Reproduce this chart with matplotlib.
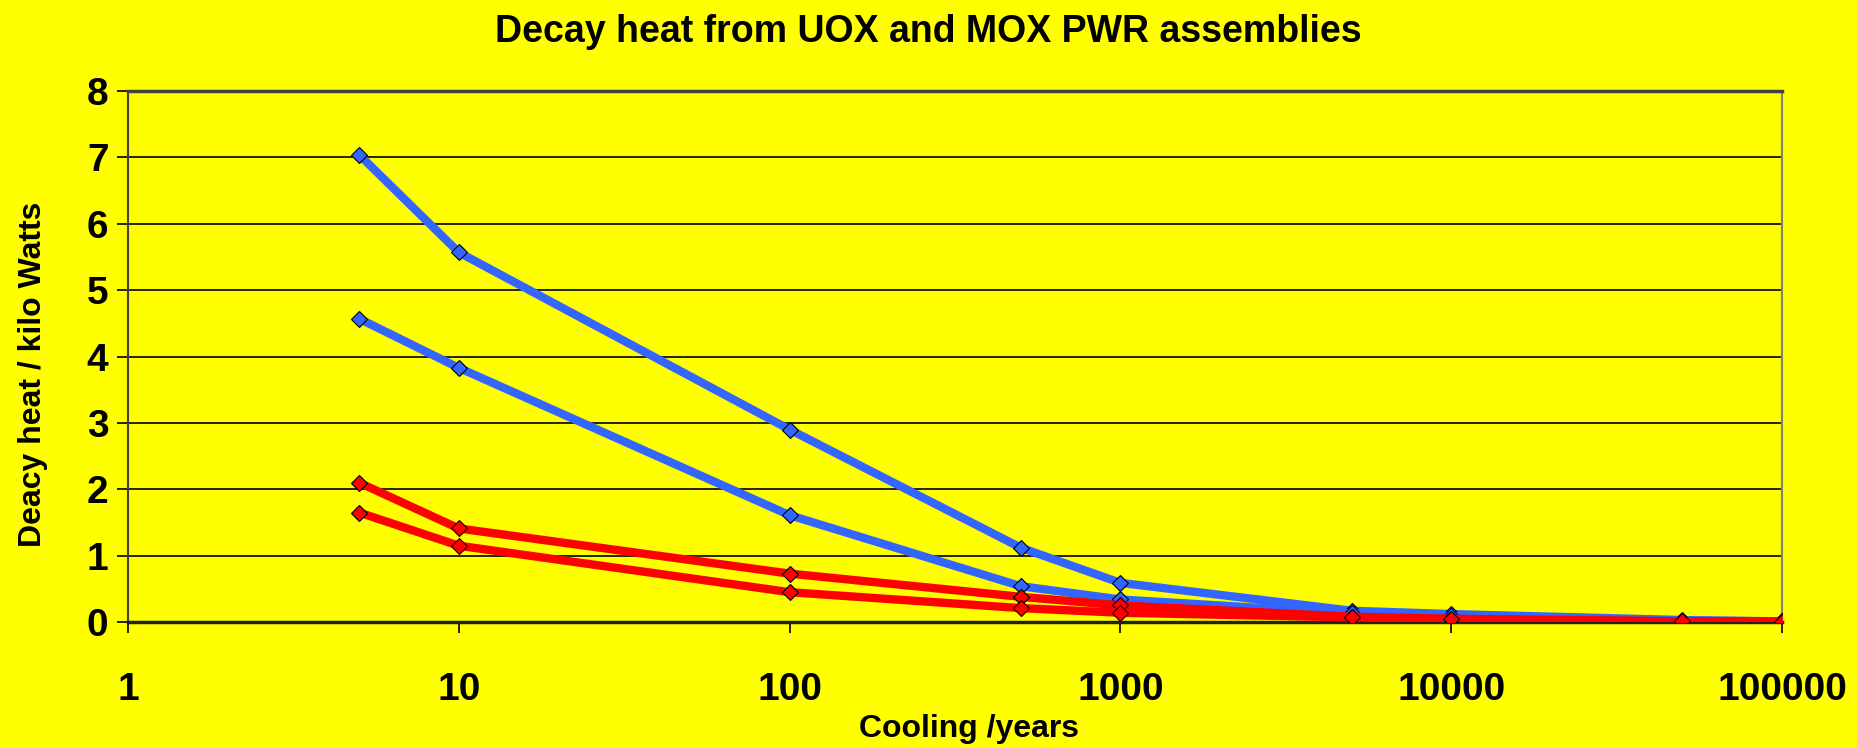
import numpy as np
import matplotlib.pyplot as plt
from matplotlib.ticker import FixedLocator, FixedFormatter, NullLocator

# cooling time in years
years = [5, 10, 100, 500, 1000, 5000, 10000, 50000, 100000]

# decay heat in kW
blue_high = [7.04, 5.57, 2.90, 1.12, 0.59, 0.17, 0.12, 0.03, 0.01]
blue_low = [4.57, 3.83, 1.61, 0.54, 0.34, 0.13, 0.09, 0.02, 0.01]
red_high = [2.10, 1.41, 0.73, 0.38, 0.25, 0.08, 0.05, 0.01, 0.01]
red_low = [1.65, 1.15, 0.45, 0.21, 0.14, 0.07, 0.04, 0.01, 0.00]

x_ticks = [1, 10, 100, 1000, 10000, 100000]
x_tick_labels = ["1", "10", "100", "1000", "10000", "100000"]
y_ticks = [0, 1, 2, 3, 4, 5, 6, 7, 8]

plt.rcParams["font.family"] = ["Liberation Sans", "DejaVu Sans"]
plt.rcParams["font.weight"] = "bold"

yellow = "#FFFF00"
blue = "#3366FF"
red = "#FF0000"

fig = plt.figure(figsize=(18.57, 7.48), dpi=100, facecolor=yellow)
ax = fig.add_axes([0.0689, 0.1684, 0.8907, 0.7099])
ax.set_facecolor(yellow)

# gridlines
for yv in y_ticks[1:-1]:
    ax.axhline(yv, color="black", linewidth=1.2, zorder=1)

# series: blue first, red on top
for series, col in [(blue_high, blue), (blue_low, blue), (red_high, red), (red_low, red)]:
    ax.plot(years, series, color=col, linewidth=6, marker="D", markersize=8,
            markerfacecolor=col, markeredgecolor="black", markeredgewidth=0.8,
            solid_joinstyle="miter", zorder=3)

ax.set_xscale("log")
ax.set_xlim(1, 100000)
ax.set_ylim(0, 8)
ax.xaxis.set_major_locator(FixedLocator(x_ticks))
ax.xaxis.set_major_formatter(FixedFormatter(x_tick_labels))
ax.xaxis.set_minor_locator(NullLocator())
ax.set_yticks(y_ticks)

ax.tick_params(axis="x", direction="out", length=8, width=1.2, pad=28,
               labelsize=28, colors="black")
ax.tick_params(axis="y", direction="out", length=8, width=1.2, pad=6,
               labelsize=28, colors="black")
for lab in ax.get_xticklabels() + ax.get_yticklabels():
    lab.set_fontweight("bold")

ax.spines["left"].set_color("#404040")
ax.spines["left"].set_linewidth(1.5)
ax.spines["bottom"].set_color("#222222")
ax.spines["bottom"].set_linewidth(2.5)
ax.spines["top"].set_color("#404040")
ax.spines["top"].set_linewidth(2.5)
ax.spines["right"].set_color("#808080")
ax.spines["right"].set_linewidth(1.5)

fig.text(0.5, 0.957, "Decay heat from UOX and MOX PWR assemblies", ha="center",
         va="center", fontsize=27, fontweight="bold")
fig.text(0.522, 0.026, "Cooling /years", ha="center", va="center",
         fontsize=23, fontweight="bold")
fig.text(0.018, 0.50, "Deacy heat / kilo Watts", ha="center", va="center",
         rotation=90, fontsize=23, fontweight="bold")

fig.savefig("out.png", dpi=100, facecolor=yellow)
